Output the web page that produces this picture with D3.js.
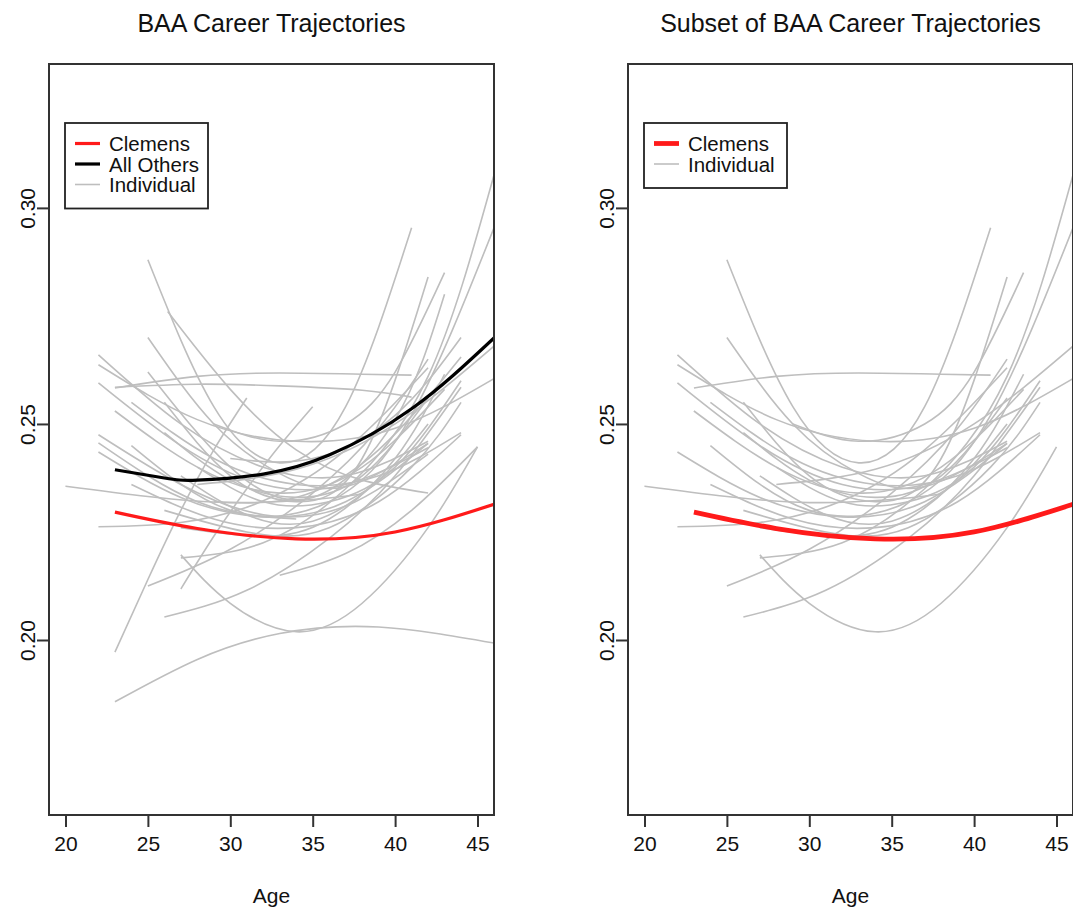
<!DOCTYPE html>
<html>
<head>
<meta charset="utf-8">
<script src="https://cdn.jsdelivr.net/npm/d3@7"></script>
<style>
  body { margin: 0; background: #fff; }
  text { font-family: "Liberation Sans", Arial, Helvetica, sans-serif; fill: #111; }
</style>
</head>
<body>
<div id="chart"></div>
<script>
// tick labels
var xTicks = [20, 25, 30, 35, 40, 45];
var yTicks = [0.20, 0.25, 0.30];
var titles = ["BAA Career Trajectories", "Subset of BAA Career Trajectories"];

// fitted trajectories as [age, value]
var clemens = [[23, 0.2296], [28, 0.2258], [34, 0.2234], [40, 0.2250], [46, 0.2314]];
var allOthers = [[23, 0.2394], [26, 0.2375], [28, 0.2370], [32, 0.2384], [36, 0.2428], [41, 0.2535], [46, 0.2699]];

// individual players (gray). The first block is also in the subset panel.
var individual = [
  [[25, 0.288], [29, 0.254], [33, 0.241], [37, 0.254], [41, 0.2954]],
  [[22, 0.266], [27, 0.250], [32, 0.240], [37, 0.238], [42, 0.246]],
  [[22, 0.2637], [28, 0.251], [34, 0.246], [40, 0.249], [46, 0.2605]],
  [[22, 0.2595], [27, 0.245], [32, 0.236], [37, 0.236], [42, 0.2445]],
  [[23, 0.2583], [28, 0.2610], [33, 0.2618], [38, 0.2615], [41, 0.2613]],
  [[22, 0.2435], [27, 0.233], [32, 0.2285], [37, 0.232], [42, 0.2455]],
  [[20, 0.2356], [25, 0.2332], [30, 0.2318], [35, 0.2325], [38, 0.2338]],
  [[22, 0.2262], [27, 0.2272], [32, 0.2322], [37, 0.2440], [42, 0.2630]],
  [[27, 0.2197], [30, 0.2085], [34, 0.2019], [38, 0.2085], [42, 0.2260], [45, 0.2447]],
  [[25, 0.2125], [30, 0.2210], [35, 0.2340], [39, 0.2490], [42, 0.2650]],
  [[26, 0.2053], [31, 0.2115], [36, 0.2235], [40, 0.2380], [44, 0.2585]],
  [[27, 0.2190], [32, 0.2225], [37, 0.2350], [42, 0.2610], [46, 0.3076]],
  [[24, 0.2450], [30, 0.2300], [36, 0.2320], [41, 0.2520], [46, 0.2954]],
  [[28, 0.2360], [34, 0.2395], [40, 0.2500], [46, 0.2680]],
  [[25, 0.2700], [29, 0.2500], [33, 0.2385], [37, 0.2355], [42, 0.2455]],
  [[23, 0.2530], [28, 0.2400], [33, 0.2340], [38, 0.2400], [43, 0.2580]],
  [[24, 0.2360], [29, 0.2280], [34, 0.2260], [39, 0.2320], [44, 0.2475]],
  [[26, 0.2300], [31, 0.2250], [36, 0.2260], [41, 0.2400], [44, 0.2550]],
  [[27, 0.2260], [32, 0.2240], [36, 0.2280], [40, 0.2420], [43, 0.2615]],
  [[28, 0.2400], [32, 0.2320], [36, 0.2320], [40, 0.2400], [44, 0.2600]],
  [[24, 0.2550], [29, 0.2420], [34, 0.2360], [39, 0.2380], [44, 0.2480]],
  [[29, 0.2500], [33, 0.2460], [37, 0.2500], [40, 0.2620], [43, 0.2850]],
  [[27, 0.2380], [31, 0.2290], [35, 0.2275], [39, 0.2370], [42, 0.2500]],
  [[26, 0.2480], [30, 0.2370], [34, 0.2330], [38, 0.2380], [42, 0.2560]],
  [[26, 0.2550], [30, 0.2380], [34, 0.2320], [38, 0.2420], [42, 0.2840]],
  // left panel only
  [[23, 0.1857], [28, 0.1955], [33, 0.2015], [39, 0.2030], [46, 0.1993]],
  [[23, 0.1972], [25, 0.2140], [27, 0.2300], [29, 0.2440], [31, 0.2560]],
  [[27, 0.2118], [29, 0.2240], [31, 0.2350], [33, 0.2450], [35, 0.2540]],
  [[22, 0.2456], [25, 0.2380], [28, 0.2320], [31, 0.2290], [34, 0.2280]],
  [[23, 0.2585], [28, 0.2592], [33, 0.2588], [38, 0.2578], [41, 0.2562]],
  [[22, 0.2475], [27, 0.2360], [32, 0.2290], [37, 0.2310], [42, 0.2430]],
  [[26.2, 0.2760], [30, 0.2580], [34, 0.2440], [38, 0.2370], [42, 0.2340]],
  [[30, 0.2420], [35, 0.2420], [40, 0.2520], [44, 0.2700]],
  [[29, 0.2320], [34, 0.2330], [39, 0.2440], [44, 0.2655]],
  [[33, 0.2150], [37, 0.2200], [41, 0.2300], [45, 0.2447]],
  [[25, 0.2620], [30, 0.2400], [35, 0.2330], [40, 0.2510], [43, 0.2800]]
];
var subsetCount = 25;

var W = 1073, H = 910;
var panelW = 445, panelH = 751, plotTop = 64;
var panelLeft = [49, 628];

var svg = d3.select("#chart")
    .append("svg")
        .attr("width", W)
        .attr("height", H);

var x = d3.scaleLinear().domain([19, 46]).range([0, panelW]);
var y = d3.scaleLinear().domain([0.1595, 0.3333]).range([panelH, 0]);

var line = d3.line()
    .x(function(d) { return x(d[0]); })
    .y(function(d) { return y(d[1]); })
    .curve(d3.curveNatural);

svg.append("clipPath").attr("id", "plotclip")
    .append("rect").attr("width", panelW).attr("height", panelH);

function drawPanel(i) {
    var g = svg.append("g")
        .attr("transform", "translate(" + panelLeft[i] + "," + plotTop + ")");

    var curves = i == 0 ? individual : individual.slice(0, subsetCount);
    var plot = g.append("g").attr("clip-path", "url(#plotclip)");

    plot.selectAll(".ind")
        .data(curves)
        .enter()
        .append("path")
            .attr("class", "ind")
            .attr("d", line)
            .attr("fill", "none")
            .attr("stroke", "#bebebe")
            .attr("stroke-width", 1.6);

    if (i == 0) {
        plot.append("path")
            .attr("d", line(allOthers))
            .attr("fill", "none")
            .attr("stroke", "#000")
            .attr("stroke-width", 3.2);
    }
    plot.append("path")
        .attr("d", line(clemens))
        .attr("fill", "none")
        .attr("stroke", "#ff1a1a")
        .attr("stroke-width", i == 0 ? 3.2 : 4.8);

    // box
    g.append("rect")
        .attr("width", panelW)
        .attr("height", panelH)
        .attr("fill", "none")
        .attr("stroke", "#333")
        .attr("stroke-width", 2);

    // x axis, R style
    var xa = g.append("g")
        .attr("transform", "translate(0," + panelH + ")")
        .call(d3.axisBottom(x).tickValues(xTicks).tickSize(12).tickPadding(9).tickSizeOuter(0));
    xa.select(".domain").remove();
    xa.selectAll("line").attr("stroke", "#333").attr("stroke-width", 2);
    xa.selectAll("text").attr("font-size", 21).attr("fill", "#111")
        .style("font-family", "'Liberation Sans', Arial, sans-serif");

    // y axis, labels parallel to the axis
    var ya = g.append("g")
        .call(d3.axisLeft(y).tickValues(yTicks).tickSize(12).tickFormat(d3.format(".2f")));
    ya.select(".domain").remove();
    ya.selectAll("line").attr("stroke", "#333").attr("stroke-width", 2);
    ya.selectAll("text")
        .attr("font-size", 21)
        .attr("fill", "#111")
        .style("font-family", "'Liberation Sans', Arial, sans-serif")
        .attr("x", null).attr("dy", null)
        .attr("text-anchor", "middle")
        .attr("transform", "translate(-14,0) rotate(-90)");

    g.append("text")
        .attr("x", panelW / 2)
        .attr("y", 32 - plotTop)
        .attr("text-anchor", "middle")
        .attr("font-size", 25)
        .text(titles[i]);

    g.append("text")
        .attr("x", panelW / 2)
        .attr("y", 903 - plotTop)
        .attr("text-anchor", "middle")
        .attr("font-size", 21)
        .text("Age");

    // legend
    var items = i == 0
        ? [["Clemens", "#ff1a1a", 3.2], ["All Others", "#000", 3.2], ["Individual", "#bebebe", 1.6]]
        : [["Clemens", "#ff1a1a", 4.8], ["Individual", "#bebebe", 1.6]];
    var lg = g.append("g").attr("transform", "translate(16,59)");
    lg.append("rect")
        .attr("width", 143)
        .attr("height", 24 + items.length * 20.5)
        .attr("fill", "#fff")
        .attr("stroke", "#222")
        .attr("stroke-width", 1.8);
    var row = lg.selectAll(".row")
        .data(items)
        .enter()
        .append("g")
            .attr("class", "row")
            .attr("transform", function(d, k) { return "translate(0," + (20.5 + k * 20.5) + ")"; });
    row.append("line")
        .attr("x1", 10).attr("x2", 35)
        .attr("stroke", function(d) { return d[1]; })
        .attr("stroke-width", function(d) { return d[2]; });
    row.append("text")
        .attr("x", 44)
        .attr("y", 7.5)
        .attr("font-size", 20.5)
        .text(function(d) { return d[0]; });
}

drawPanel(0);
drawPanel(1);
</script>
</body>
</html>
